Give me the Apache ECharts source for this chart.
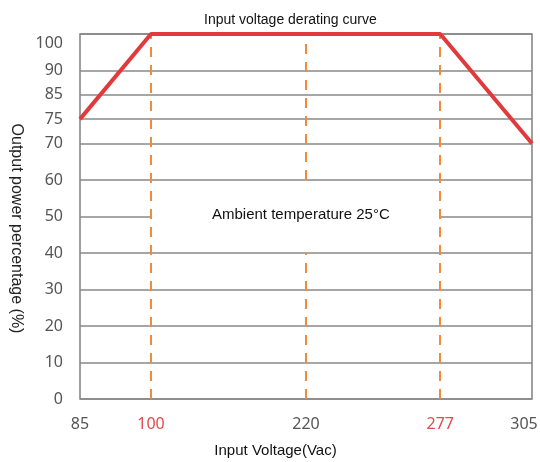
<!DOCTYPE html>
<html lang="en">

<head>
  <meta charset="UTF-8">
  <script src="https://cdn.jsdelivr.net/npm/echarts@6/dist/echarts.min.js"></script>
  <title>Input voltage derating curve</title>
  <style>
    html,
    body {
      margin: 0;
      background: #fff;
    }

    #main {
      width: 540px;
      height: 462px;
    }
  </style>
</head>

<body>
  <div id="main"></div>

  <script type="text/javascript">
    // axis ticks (the drawing's axes are not evenly spaced)
    var xTicks = [85, 100, 220, 277, 305];
    var xTickSlots = [0, 15.7, 50, 79.7, 100];   // where each tick sits, % of width
    var xRedTicks = [100, 277];
    var yTicks = [0, 10, 20, 30, 40, 50, 60, 70, 75, 85, 90, 100];
    var yTickSlots = [0, 10, 20, 30, 40, 50, 60, 70, 76.67, 83.33, 90, 100];

    // derating curve
    var curveVoltage = [85, 100, 277, 305];
    var curvePower = [75, 100, 100, 70];

    // dashed guides: voltage, [from, to] power ranges
    var guideVoltage = [100, 220, 220, 277];
    var guideRanges = [[0, 100], [0, 40], [60, 100], [0, 100]];

    // the 50% grid line is only drawn outside the guides
    var halfLineSegments = [[85, 100], [277, 305]];

    function piecewise(v, from, to) {
      for (var i = 1; i < from.length; i++) {
        if (v <= from[i]) {
          var t = (v - from[i - 1]) / (from[i] - from[i - 1]);
          return to[i - 1] + t * (to[i] - to[i - 1]);
        }
      }
      return to[to.length - 1];
    }
    function xMap(v) { return piecewise(v, xTicks, xTickSlots); }
    function yMap(v) { return piecewise(v, yTicks, yTickSlots); }
    function lookup(val, slots, ticks) {
      for (var i = 0; i < slots.length; i++) {
        if (Math.abs(slots[i] - val) < 0.01) return ticks[i];
      }
      return '';
    }

    var chart = echarts.init(document.getElementById('main'), null, { renderer: 'canvas' });

    var curveData = curveVoltage.map(function (v, i) {
      return [xMap(v), yMap(curvePower[i])];
    });

    var guideLines = guideVoltage.map(function (v, i) {
      return [
        { coord: [xMap(v), yMap(guideRanges[i][0])] },
        { coord: [xMap(v), yMap(guideRanges[i][1])] }
      ];
    });

    var halfLines = halfLineSegments.map(function (s) {
      return [
        { coord: [xMap(s[0]), yMap(50)] },
        { coord: [xMap(s[1]), yMap(50)] }
      ];
    });

    var option = {
      animation: false,
      title: {
        text: 'Input voltage derating curve',
        left: 199,
        top: 8,
        textStyle: {
          fontFamily: 'Liberation Sans',
          fontSize: 14,
          fontWeight: 'normal',
          color: '#111'
        }
      },
      grid: {
        left: 80,
        right: 8,
        top: 34,
        bottom: 63,
        outerBoundsMode: 'none',
        show: true,
        borderColor: '#808080',
        borderWidth: 1.5
      },
      xAxis: {
        type: 'value',
        min: 0,
        max: 100,
        name: 'Input Voltage(Vac)',
        nameLocation: 'middle',
        nameGap: 44,
        nameTextStyle: {
          fontFamily: 'Liberation Sans',
          fontSize: 15,
          color: '#111',
          padding: [0, 61, 0, 0]
        },
        axisLine: { show: false },
        axisTick: { show: false },
        splitLine: { show: false },
        axisLabel: {
          customValues: xTickSlots,
          margin: 17,
          fontFamily: 'Noto Sans',
          fontSize: 16,
          color: '#555',
          formatter: function (val) {
            var t = lookup(val, xTickSlots, xTicks);
            if (xRedTicks.indexOf(t) >= 0) return '{red|' + t + '}';
            if (t === xTicks[xTicks.length - 1]) return '{end|' + t + '}';
            return String(t);
          },
          rich: {
            red: { color: '#e2494d', fontFamily: 'Noto Sans', fontSize: 16 },
            end: { color: '#555', fontFamily: 'Noto Sans', fontSize: 16, padding: [0, 16, 0, 0] }
          }
        }
      },
      yAxis: {
        type: 'value',
        min: 0,
        max: 100,
        name: 'Output power percentage (%)',
        nameLocation: 'middle',
        nameRotate: -90,
        nameGap: 51,
        nameTextStyle: {
          fontFamily: 'Liberation Sans',
          fontSize: 16,
          color: '#222',
          padding: [0, 0, 0, 24]
        },
        axisLine: { show: false },
        axisTick: {
          show: false,
          customValues: yTickSlots.filter(function (s, i) { return yTicks[i] !== 50; })
        },
        splitLine: {
          lineStyle: { color: '#888', width: 1.5 }
        },
        axisLabel: {
          customValues: yTickSlots,
          margin: 17,
          fontFamily: 'Noto Sans',
          fontSize: 16,
          color: '#555',
          formatter: function (val) {
            var t = lookup(val, yTickSlots, yTicks);
            return t === 100 ? '{top|100}' : String(t);
          },
          rich: {
            top: { padding: [18, 0, 0, 0], fontFamily: 'Noto Sans', fontSize: 16, color: '#555' }
          }
        }
      },
      graphic: [
        {
          type: 'text',
          left: 212,
          top: 207,
          style: {
            text: 'Ambient temperature 25°C',
            font: '15px "Liberation Sans"',
            fill: '#111'
          }
        }
      ],
      series: [
        {
          type: 'line',
          data: [],
          silent: true,
          markLine: {
            silent: true,
            symbol: 'none',
            label: { show: false },
            lineStyle: { color: '#888', width: 1.5, type: 'solid' },
            data: halfLines
          }
        },
        {
          type: 'line',
          data: [],
          silent: true,
          z: 3,
          markLine: {
            silent: true,
            symbol: 'none',
            label: { show: false },
            lineStyle: { color: '#f28a3c', width: 2, type: [10, 8] },
            data: guideLines
          }
        },
        {
          type: 'line',
          data: curveData,
          symbol: 'none',
          z: 5,
          lineStyle: { color: '#e23a3c', width: 4 }
        }
      ]
    };

    chart.setOption(option);
  </script>
</body>

</html>
